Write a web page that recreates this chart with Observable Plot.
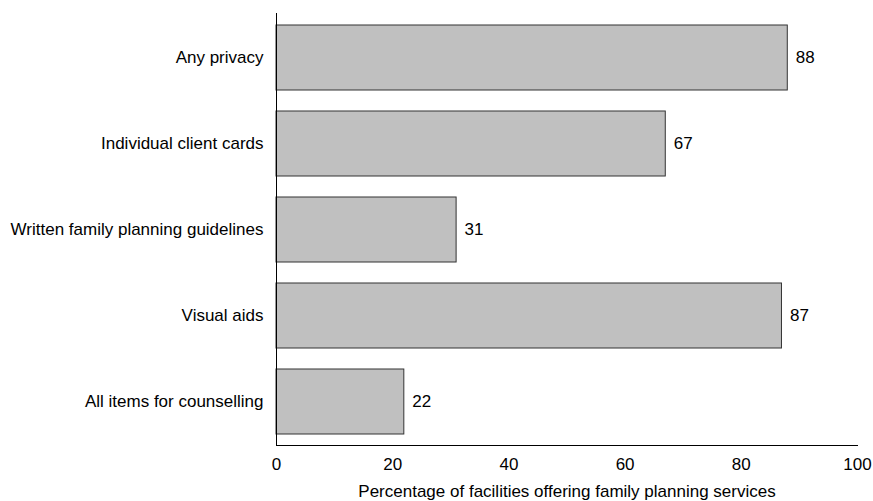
<!DOCTYPE html>
<html><head><meta charset="utf-8">
<script src="https://cdn.jsdelivr.net/npm/d3@7"></script>
<script src="https://cdn.jsdelivr.net/npm/@observablehq/plot@0.6"></script>
<style>body{margin:0;background:#fff;} svg{display:block;}</style>
</head><body><div id="chart"></div>
<script>
const categories = ["Any privacy","Individual client cards","Written family planning guidelines","Visual aids","All items for counselling"];
const values = [88, 67, 31, 87, 22];
const xTicks = [0, 20, 40, 60, 80, 100];
const xLabel = "Percentage of facilities offering family planning services";

const data = categories.map((c, i) => ({category: c, value: values[i]}));

const chart = Plot.plot({
  width: 873, height: 501,
  marginTop: 13, marginBottom: 56, marginLeft: 276, marginRight: 16,
  style: {fontFamily: "'Liberation Sans', Arial, sans-serif", fontSize: "17px", color: "#000", background: "#fff"},
  x: {domain: [0, 100], ticks: xTicks, tickSize: 0, tickPadding: 12, label: null},
  y: {domain: categories, paddingInner: 0.25, paddingOuter: 0.127, tickSize: 0, tickPadding: 13, label: null},
  marks: [
    Plot.barX(data, {x: "value", y: "category", fill: "#c0c0c0", stroke: "#333", strokeWidth: 1}),
    Plot.text(data, {x: "value", y: "category", text: d => String(d.value), textAnchor: "start", dx: 8, fill: "#000", fontSize: 17}),
    Plot.ruleX([0], {stroke: "#000", strokeWidth: 1}),
    Plot.frame({anchor: "bottom", stroke: "#000"}),
    Plot.axisX({ticks: xTicks, tickSize: 0, tickPadding: 12, label: null, fontSize: 17}),
    Plot.text([xLabel], {frameAnchor: "bottom", dy: 51, fontSize: 17, fill: "#000"})
  ]
});
document.getElementById("chart").appendChild(chart);
</script></body></html>
